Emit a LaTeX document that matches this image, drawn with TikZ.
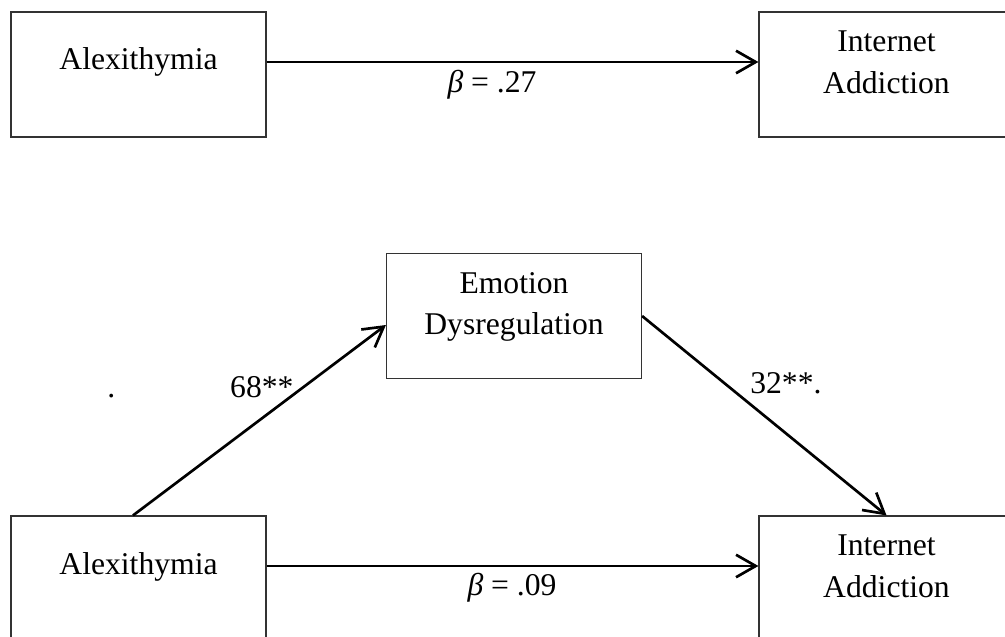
\documentclass[tikz,border=0pt]{standalone}
\usepackage{fontspec}
\setmainfont{Liberation Serif}
\usepackage{tkz-euclide}
\usetikzlibrary{arrows.meta,calc}
\tikzset{
  panel/.style={draw=black!80,line width=.8pt,minimum width=6.375cm,minimum height=3.125cm,
    inner sep=0pt,align=center,font=\fontsize{22.5}{29.2}\selectfont},
  oneline/.style={text height=.55cm,text depth=.775cm},
  twoline/.style={text height=1.1cm,text depth=.175cm},
  link/.style={line width=1.9pt,-{Straight Barb[length=14pt,width=16pt]}},
  coef/.style={inner sep=0pt,font=\fontsize{22.5}{29.2}\selectfont}
}

\begin{document}
\begin{tikzpicture}[x=0.025cm,y=-0.025cm]
\useasboundingbox (0,0) rectangle (1005,637);

\tkzDefPoints{138.5/74.5/A,886.5/74.5/B,514/316/E,138.5/578.5/C,886.5/578.5/D}

\node[panel,oneline] (alexTop) at (A) {Alexithymia};
\node[panel,twoline] (addTop) at (B) {Internet\\Addiction};
\node[panel,twoline] (emo) at (E) {Emotion\\Dysregulation};
\node[panel,oneline] (alexBot) at (C) {Alexithymia};
\node[panel,twoline] (addBot) at (D) {Internet\\Addiction};

\draw[link] ([yshift=.3125cm]alexTop.east) -- ([yshift=.3125cm]addTop.west);
\draw[link] ([yshift=.3125cm]alexBot.east) -- ([yshift=.3125cm]addBot.west);
\draw[link] ([xshift=-.1375cm]alexBot.north) -- ([yshift=-.225cm]emo.west);
\draw[link] (emo.east) -- (addBot.north);

\node[coef,anchor=base] (betaTop) at (492,93) {\textit{β} = .27};
\node[coef,anchor=base] (betaBot) at (512,595) {\textit{β} = .09};
\node[coef,anchor=base west] (pathA) at (107,397) {.\hspace{2.875cm}68**};
\node[coef,anchor=base west] (pathB) at (750,393) {32**.};

\end{tikzpicture}
\end{document}
